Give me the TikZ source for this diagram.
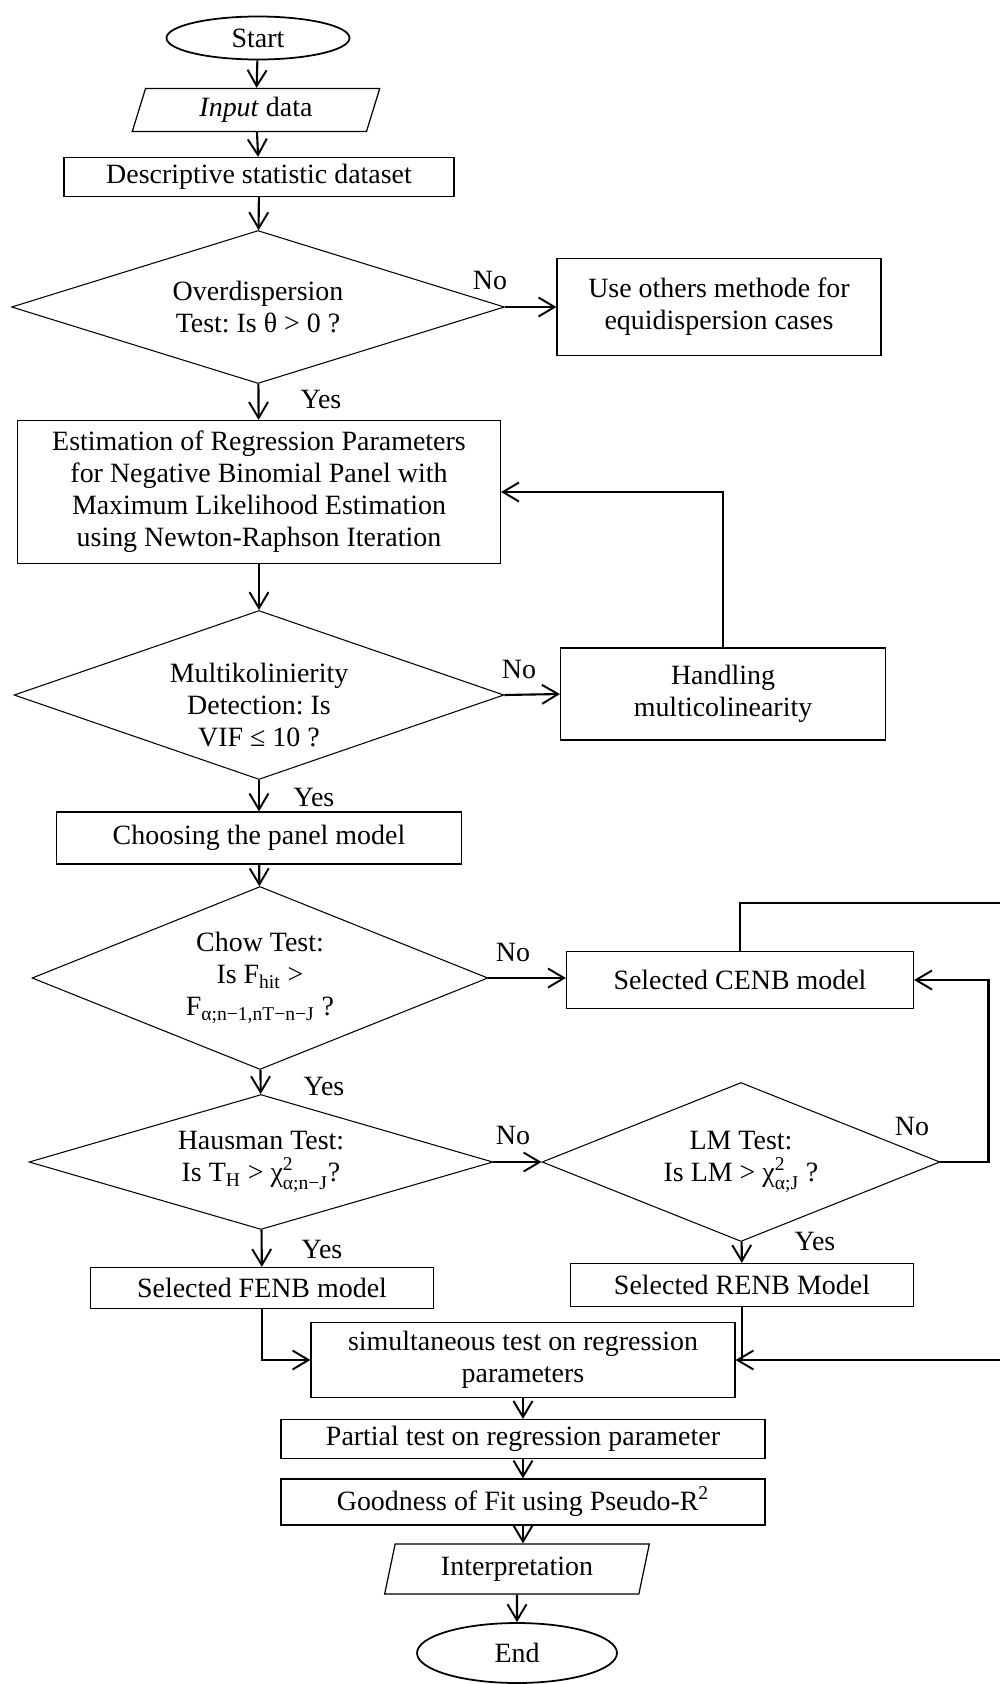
\documentclass[tikz,border=0pt]{standalone}
\usepackage{amsmath}
\usepackage{fontspec}
\setmainfont{Liberation Serif}
\usetikzlibrary{shapes.geometric, arrows.meta}
\frenchspacing

\begin{document}
\begin{tikzpicture}[
    x=0.02cm, y=-0.02cm,
    font=\fontsize{15.9pt}{18.2pt}\selectfont,
    terminal/.style={ellipse, draw=black, line width=1pt, inner sep=0pt},
    io/.style={trapezium, trapezium left angle=75, trapezium right angle=105, trapezium stretches=true, draw=black, line width=0.7pt, inner sep=0pt},
    block/.style={rectangle, draw=black, line width=0.7pt, align=center, inner sep=2pt},
    decision/.style={diamond, draw=black, line width=0.6pt, align=center, inner sep=0pt},
    answer/.style={inner sep=0pt},
    arrow/.style={-{Straight Barb[length=0.32cm, width=0.38cm, line width=1.1pt]}, line width=1.2pt}
]
\useasboundingbox (0,0) rectangle (1000,1684);
\clip (0,0) rectangle (1000,1684);
% main column
\node[terminal, minimum width=3.66cm, minimum height=0.86cm] (start) at (258,38) {Start};
\node[io, minimum width=4.98cm, minimum height=0.86cm] (input) at (256,110) {\textit{Input} data};
\node[block, minimum width=7.8cm, minimum height=0.78cm] (desc) at (259,177) {Descriptive statistic dataset};
\node[decision, aspect=3.22, minimum width=9.86cm, minimum height=3.06cm] (overdisp) at (258,307) {Overdispersion\\Test: Is θ > 0 ?};
\node[block, minimum width=6.48cm, minimum height=1.94cm] (others) at (719,307) {Use others methode for\\equidispersion cases};
\node[block, minimum width=9.66cm, minimum height=2.86cm] (estim) at (259,492) {Estimation of Regression Parameters\\for Negative Binomial Panel with\\Maximum Likelihood Estimation\\using Newton-Raphson Iteration};
\node[decision, aspect=2.9, minimum width=9.8cm, minimum height=3.38cm] (multi) at (259,695) {\raisebox{-0.26cm}[\height][\depth]{\begin{tabular}{@{}c@{}}Multikolinierity\\Detection: Is\\VIF ≤ 10 ?\end{tabular}}};
\node[block, minimum width=6.5cm, minimum height=1.84cm] (handle) at (723,694) {Handling\\multicolinearity};
\node[block, minimum width=8.1cm, minimum height=1.04cm] (choose) at (259,838) {Choosing the panel model};
\node[decision, aspect=2.5, minimum width=9.12cm, minimum height=3.66cm] (chow) at (260,978) {Chow Test:\\Is F$_{\text{hit}}$ >\\F$_{\text{α;n−1,nT−n−J}}$ ?};
\node[block, minimum width=6.94cm, minimum height=1.14cm] (cenb) at (740,980) {Selected CENB model};
\node[decision, aspect=3.44, minimum width=9.28cm, minimum height=2.7cm] (hausman) at (261,1162) {Hausman Test:\\Is T$_{\text{H}}$ > χ$^{\text{2}}_{\text{α;n−J}}$?};
\node[decision, aspect=2.5, minimum width=7.96cm, minimum height=3.18cm] (lm) at (741,1162) {LM Test:\\Is LM > χ$^{\text{2}}_{\text{α;J}}$ ?};
\node[block, minimum width=6.86cm, minimum height=0.82cm] (fenb) at (262,1288) {Selected FENB model};
\node[block, minimum width=6.86cm, minimum height=0.86cm] (renb) at (742,1285) {Selected RENB Model};
\node[block, minimum width=8.48cm, minimum height=1.5cm] (simult) at (523,1360) {simultaneous test on regression\\parameters};
\node[block, minimum width=9.68cm, minimum height=0.78cm] (partial) at (523,1439) {Partial test on regression parameter};
\node[block, minimum width=9.68cm, minimum height=0.92cm] (good) at (523,1502) {Goodness of Fit using Pseudo-R\textsuperscript{2}};
\node[io, minimum width=5.32cm, minimum height=1.0cm] (interp) at (517,1569) {Interpretation};
\node[terminal, minimum width=4.0cm, minimum height=1.2cm] (stop) at (517,1653) {End};
% answers
\node[answer] (no1) at (490,280) {No};
\node[answer] (yes1) at (321,399) {Yes};
\node[answer] (no2) at (519,669) {No};
\node[answer] (yes2) at (314,797) {Yes};
\node[answer] (no3) at (513,952) {No};
\node[answer] (yes3) at (324,1086) {Yes};
\node[answer] (no4) at (513,1135) {No};
\node[answer] (yes4) at (322,1249) {Yes};
\node[answer] (no5) at (912,1126) {No};
\node[answer] (yes5) at (815,1241) {Yes};
\coordinate (rim) at (1012,903);
% connectors
\draw[arrow] (start) -- (input);
\draw[arrow] (input) -- (desc);
\draw[arrow] (desc) -- (overdisp);
\draw[arrow] (overdisp.east) -- (others.west);
\draw[arrow] (overdisp) -- (estim);
\draw[arrow] (estim) -- (multi);
\draw[arrow] (multi.east) -- (handle.west);
\draw[arrow] (handle.north) |- (estim.east);
\draw[arrow] (multi) -- (choose);
\draw[arrow] (choose) -- (chow);
\draw[arrow] (chow.east) -- (chow.east -| cenb.west);
\draw[arrow] (chow) -- (hausman);
\draw[arrow] (hausman.east) -- (lm.west);
\draw[arrow] (lm.east) -- ++(48,0) |- (cenb.east);
\draw[arrow] (hausman) -- (fenb);
\draw[arrow] (lm) -- (renb);
\draw[arrow] (cenb.north) |- (rim) |- (simult.east);
\draw[line width=1.2pt] (renb.south) -- (renb.south |- simult.east);
\draw[arrow] (fenb.south) |- (simult.west);
\draw[arrow] (simult) -- (partial);
\draw[arrow] (partial) -- (good);
\draw[arrow] (good.south) -- (good.south |- interp.north);
\draw[arrow] (interp) -- (stop);
\end{tikzpicture}
\end{document}
